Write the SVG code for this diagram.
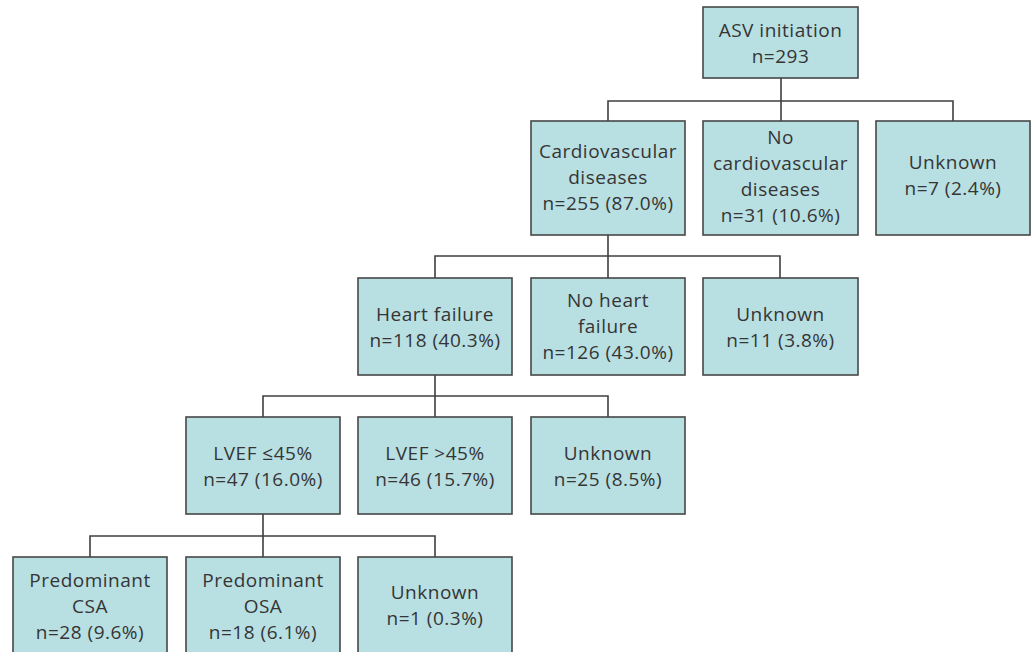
<svg xmlns="http://www.w3.org/2000/svg" width="1036" height="652" viewBox="0 0 1036 652">
<style>
.box{fill:#b8dfe2;stroke:#474747;stroke-width:1.6}
.t{font-family:"Open Sans","Liberation Sans",sans-serif;font-size:19px;letter-spacing:0.5px;fill:#353535;text-anchor:middle}
.c{fill:none;stroke:#3f3f3f;stroke-width:1.6}
</style>
<rect width="1036" height="652" fill="#ffffff"/>
<g id="connectors">
<path class="c" d="M781 78V101M608 121V101H953V121M781 101V121"/>
<path class="c" d="M608 235V256M435 278V256H780V278M608 256V278"/>
<path class="c" d="M435 375V396M263 417V396H608V417M435 396V417"/>
<path class="c" d="M263 514V536M90 557V536H435V557M263 536V557"/>
</g>
<g id="asv"><rect class="box" x="703" y="7" width="155" height="71"/><text class="t" x="780.5" y="36.5">ASV initiation</text><text class="t" x="780.5" y="62.5">n=293</text></g>
<g id="cvd"><rect class="box" x="531" y="121" width="154" height="114"/><text class="t" x="608" y="158">Cardiovascular</text><text class="t" x="608" y="184">diseases</text><text class="t" x="608" y="210">n=255 (87.0%)</text></g>
<g id="nocvd"><rect class="box" x="703" y="121" width="155" height="114"/><text class="t" x="780.5" y="144">No</text><text class="t" x="780.5" y="170">cardiovascular</text><text class="t" x="780.5" y="196">diseases</text><text class="t" x="780.5" y="222">n=31 (10.6%)</text></g>
<g id="unk1"><rect class="box" x="876" y="121" width="154" height="114"/><text class="t" x="953" y="169">Unknown</text><text class="t" x="953" y="195">n=7 (2.4%)</text></g>
<g id="hf"><rect class="box" x="358" y="278" width="154" height="97"/><text class="t" x="435" y="321">Heart failure</text><text class="t" x="435" y="347">n=118 (40.3%)</text></g>
<g id="nohf"><rect class="box" x="531" y="278" width="154" height="97"/><text class="t" x="608" y="307">No heart</text><text class="t" x="608" y="333">failure</text><text class="t" x="608" y="359">n=126 (43.0%)</text></g>
<g id="unk2"><rect class="box" x="703" y="278" width="155" height="97"/><text class="t" x="780.5" y="321">Unknown</text><text class="t" x="780.5" y="347">n=11 (3.8%)</text></g>
<g id="lvlow"><rect class="box" x="186" y="417" width="154" height="97"/><text class="t" x="263" y="460">LVEF ≤45%</text><text class="t" x="263" y="486">n=47 (16.0%)</text></g>
<g id="lvhigh"><rect class="box" x="358" y="417" width="154" height="97"/><text class="t" x="435" y="460">LVEF &gt;45%</text><text class="t" x="435" y="486">n=46 (15.7%)</text></g>
<g id="unk3"><rect class="box" x="531" y="417" width="154" height="97"/><text class="t" x="608" y="460">Unknown</text><text class="t" x="608" y="486">n=25 (8.5%)</text></g>
<g id="csa"><rect class="box" x="13" y="557" width="154" height="100"/><text class="t" x="90" y="587">Predominant</text><text class="t" x="90" y="613">CSA</text><text class="t" x="90" y="639">n=28 (9.6%)</text></g>
<g id="osa"><rect class="box" x="186" y="557" width="154" height="100"/><text class="t" x="263" y="587">Predominant</text><text class="t" x="263" y="613">OSA</text><text class="t" x="263" y="639">n=18 (6.1%)</text></g>
<g id="unk4"><rect class="box" x="358" y="557" width="154" height="100"/><text class="t" x="435" y="599">Unknown</text><text class="t" x="435" y="625">n=1 (0.3%)</text></g>
</svg>
